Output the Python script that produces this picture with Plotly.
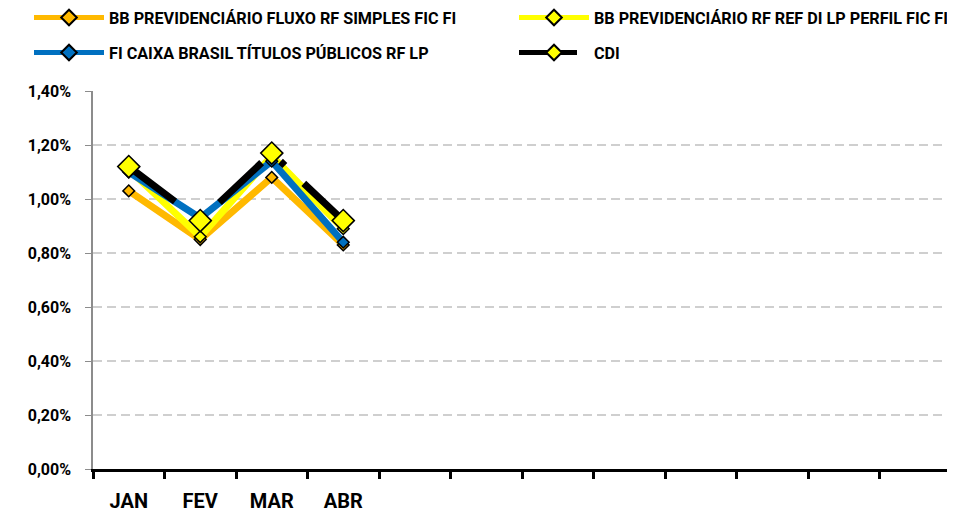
import plotly.graph_objects as go

months = ["JAN", "FEV", "MAR", "ABR"]
blank_months = [" ", "  ", "   ", "    ", "     ", "      ", "       ", "        "]

names = [
    "BB PREVIDENCIÁRIO FLUXO RF SIMPLES FIC FI",
    "BB PREVIDENCIÁRIO RF REF DI LP PERFIL FIC FI",
    "FI CAIXA BRASIL TÍTULOS PÚBLICOS RF LP",
    "CDI",
]
bb_fluxo = [1.03, 0.85, 1.08, 0.83]
bb_perfil = [1.11, 0.86, 1.16, 0.89]
caixa_tp = [1.10, 0.93, 1.14, 0.84]
cdi = [1.12, 0.92, 1.17, 0.92]

y_ticks = [0, 0.2, 0.4, 0.6, 0.8, 1.0, 1.2, 1.4]
y_ticktext = ["0,00%", "0,20%", "0,40%", "0,60%", "0,80%", "1,00%", "1,20%", "1,40%"]

FONT = "Roboto, Lato, sans-serif"

# page body has an 8px margin: figure is sized/placed to compensate
W, H = 947, 506

fig = go.Figure()

specs = [
    (bb_fluxo, names[0], "#FFB900", "#FFB900", 9, 7, "solid", "legend"),
    (bb_perfil, names[1], "#FFFF00", "#FFFF00", 9, 7, "solid", "legend2"),
    (caixa_tp, names[2], "#0070C0", "#0070C0", 9, 7, "solid", "legend3"),
    (cdi, names[3], "#000000", "#FFFF00", 17, 7, "58px,26px,6px,26px", "legend4"),
]
for vals, nm, lc, mc, ms, lw, dash, lg in specs:
    fig.add_trace(go.Scatter(
        x=months, y=vals, name=nm, mode="lines+markers",
        line=dict(color=lc, width=lw, dash=dash),
        marker=dict(symbol="diamond", size=ms, color=mc, line=dict(color="#000000", width=1.5)),
        legend=lg,
    ))

legend_common = dict(
    orientation="h", xanchor="left", yanchor="middle",
    xref="container", yref="container",
    itemsizing="constant", itemwidth=70,
    font=dict(family=FONT, size=16.2, color="#000000", weight="bold"),
    bgcolor="rgba(0,0,0,0)",
)

fig.update_layout(
    width=W, height=H,
    margin=dict(l=85, r=4, t=83, b=45, autoexpand=False),
    paper_bgcolor="white", plot_bgcolor="white",
    showlegend=True,
    legend=dict(x=21 / W, y=1 - 10 / H, **legend_common),
    legend2=dict(x=506 / W, y=1 - 10 / H, **legend_common),
    legend3=dict(x=21 / W, y=1 - 45 / H, **legend_common),
    legend4=dict(x=506 / W, y=1 - 45 / H, **legend_common),
    font=dict(family=FONT, color="#000000"),
)

fig.update_xaxes(
    type="category",
    categoryorder="array", categoryarray=months + blank_months,
    range=[-0.5, 11.5],
    tickson="boundaries",
    showline=True, linecolor="#000000", linewidth=3,
    ticks="outside", ticklen=7, tickwidth=3, tickcolor="#000000",
    showgrid=False, automargin=False,
    tickfont=dict(family=FONT, size=20, color="#000000", weight="bold"),
    ticklabelstandoff=12,
)
fig.update_yaxes(
    range=[0, 1.4],
    tickmode="array", tickvals=y_ticks, ticktext=y_ticktext,
    showline=True, linecolor="#8c8c8c", linewidth=1.5,
    ticks="outside", ticklen=6, tickcolor="#8c8c8c", tickwidth=1,
    showgrid=True, gridcolor="#cfcfcf", gridwidth=1.5, griddash="9px,5px",
    zeroline=False, automargin=False,
    tickfont=dict(family=FONT, size=16, color="#000000", weight="bold"),
    ticklabelstandoff=11,
)

fig.write_html("out.html")
